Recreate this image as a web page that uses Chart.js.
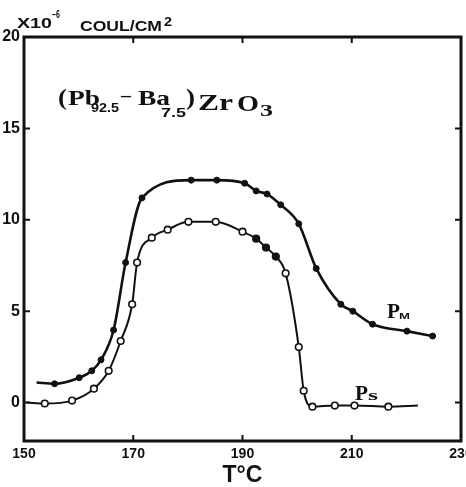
<!DOCTYPE html>
<html lang="en">
<head>
  <meta charset="UTF-8" />
  <title>(Pb92.5-Ba7.5)ZrO3 polarization</title>
  <script src="https://cdn.jsdelivr.net/npm/chart.js"></script>
  <style>
    body { margin: 0; padding: 0; background: #fff; }
    .chart-box { width: 466px; height: 487px; position: relative; }
  </style>
</head>
<body>
  <div class="chart-box">
    <canvas id="polChart"></canvas>
  </div>
  <script>
    // Values (temperature in deg C, polarization in 1e-6 coul/cm2)
    const pmTemp = [152.3, 155.6, 160.1, 162.4, 164.1, 166.4, 168.6, 171.6, 180.6, 185.3, 190.4, 192.5, 194.5, 197.0, 200.3, 203.5, 208.0, 210.2, 213.8, 220.1, 224.8];
    const pmPol  = [1.1, 1.03, 1.36, 1.74, 2.34, 3.97, 7.66, 11.2, 12.17, 12.17, 12.0, 11.58, 11.41, 10.82, 9.78, 7.34, 5.38, 5.0, 4.29, 3.91, 3.64];

    const psTemp = [150.5, 153.8, 158.8, 162.8, 165.5, 167.7, 169.8, 170.7, 173.4, 176.3, 180.1, 185.1, 190.0, 192.5, 194.3, 196.1, 197.9, 200.3, 201.2, 202.8, 206.9, 210.5, 216.7, 222.1];
    const psPol  = [0, -0.05, 0.11, 0.76, 1.74, 3.37, 5.38, 7.66, 9.02, 9.46, 9.89, 9.89, 9.35, 8.97, 8.48, 7.99, 7.07, 3.04, 0.65, -0.22, -0.16, -0.16, -0.22, -0.16];

    const xTicks = [150, 170, 190, 210, 230];
    const yTicks = [0, 5, 10, 15, 20];

    const toPoints = (xs, ys) => xs.map((x, i) => ({ x: x, y: ys[i] }));

    // frame, inward tick stubs and the hand lettering
    const framePlugin = {
      id: 'frame',
      afterDraw(chart) {
        const { ctx, chartArea: a, scales } = chart;
        ctx.save();
        ctx.strokeStyle = '#111';
        ctx.lineWidth = 3;
        ctx.strokeRect(a.left, a.top, a.right - a.left, a.bottom - a.top);

        ctx.lineWidth = 2;
        ctx.beginPath();
        [170, 190, 210].forEach(v => {
          const px = scales.x.getPixelForValue(v);
          ctx.moveTo(px, a.bottom); ctx.lineTo(px, a.bottom - 6);
          ctx.moveTo(px, a.top); ctx.lineTo(px, a.top + 6);
        });
        [0, 5, 10, 15].forEach(v => {
          const py = scales.y.getPixelForValue(v);
          ctx.moveTo(a.left, py); ctx.lineTo(a.left + 6, py);
          ctx.moveTo(a.right, py); ctx.lineTo(a.right - 6, py);
        });
        ctx.stroke();

        ctx.fillStyle = '#111';
        ctx.textBaseline = 'alphabetic';
        // draw text squeezed/stretched to span x0..x1
        const fit = (txt, x0, x1, y, font) => {
          ctx.save();
          ctx.font = font;
          const w = ctx.measureText(txt).width;
          ctx.translate(x0, y);
          ctx.scale((x1 - x0) / w, 1);
          ctx.fillText(txt, 0, 0);
          ctx.restore();
        };
        const sans = '"Liberation Sans"';
        const serif = '"Liberation Serif"';

        // unit label
        fit('X10', 17, 52, 28, 'bold 14px ' + sans);
        fit('\u22126', 52, 60, 18, 'bold 10px ' + sans);
        fit('COUL/CM', 80, 162, 31, 'bold 15px ' + sans);
        fit('2', 164, 172, 26, 'bold 12px ' + sans);

        // compound formula
        fit('(', 58, 67, 105, 'bold 24px ' + serif);
        fit('Pb', 68, 100, 105, 'bold 21px ' + serif);
        fit('92.5', 91, 119, 112, 'bold 12px ' + sans);
        fit('\u2013', 121, 131, 101, 'bold 18px ' + serif);
        fit('Ba', 138, 170, 105, 'bold 21px ' + serif);
        fit('7.5', 161, 186, 117, 'bold 12px ' + sans);
        fit(')', 186, 195, 105, 'bold 24px ' + serif);
        fit('Zr', 198, 233, 110, 'bold 23px ' + serif);
        fit('O', 237, 259, 111, 'bold 23px ' + serif);
        fit('3', 260, 273, 116, 'bold 17px ' + serif);

        // curve labels
        fit('P', 387, 400, 318, 'bold 22px ' + serif);
        fit('M', 399, 410, 319, 'bold 9px ' + sans);
        fit('P', 355, 368, 400, 'bold 22px ' + serif);
        fit('s', 368, 378, 400, 'bold 15px ' + serif);
        ctx.restore();
      }
    };

    const ctx = document.getElementById('polChart').getContext('2d');
    new Chart(ctx, {
      type: 'line',
      data: {
        datasets: [
          {
            label: 'Pm',
            data: toPoints(pmTemp, pmPol),
            borderColor: '#111',
            borderWidth: 2.6,
            cubicInterpolationMode: 'monotone',
            pointRadius: c => (c.dataIndex === 0 ? 0 : 3),
            pointBackgroundColor: '#111',
            pointBorderColor: '#111',
            pointBorderWidth: 1
          },
          {
            label: 'Ps',
            data: toPoints(psTemp, psPol),
            borderColor: '#111',
            borderWidth: 2,
            cubicInterpolationMode: 'monotone',
            pointRadius: c => (c.dataIndex === 0 || c.dataIndex === psTemp.length - 1 ? 0 : 3.3),
            pointBackgroundColor: c => {
              const t = psTemp[c.dataIndex];
              return t > 192 && t < 197 ? '#111' : '#fff';
            },
            pointBorderColor: '#111',
            pointBorderWidth: 1.6
          }
        ]
      },
      options: {
        responsive: true,
        maintainAspectRatio: false,
        animation: false,
        events: [],
        layout: { padding: { top: 37, right: 4, left: 0, bottom: 0 } },
        plugins: {
          legend: { display: false },
          tooltip: { enabled: false }
        },
        scales: {
          x: {
            type: 'linear',
            min: 150,
            max: 230,
            afterBuildTicks: s => { s.ticks = xTicks.map(v => ({ value: v })); },
            afterFit: s => { s.height = 46; s.paddingLeft = 0; s.paddingRight = 0; },
            grid: { display: false, drawTicks: false },
            border: { display: false },
            ticks: {
              color: '#111',
              padding: 5,
              maxRotation: 0,
              autoSkip: false,
              font: { family: 'Liberation Sans', weight: 'bold', size: 14 }
            },
            title: {
              display: true,
              text: 'T\u00B0C',
              color: '#111',
              padding: 0,
              font: { family: 'Liberation Sans', weight: 'bold', size: 23, lineHeight: 1 }
            }
          },
          y: {
            min: -2.1,
            max: 20,
            afterBuildTicks: s => { s.ticks = yTicks.map(v => ({ value: v })); },
            afterFit: s => { s.width = 24; s.paddingTop = 0; s.paddingBottom = 0; },
            grid: { display: false, drawTicks: false },
            border: { display: false },
            ticks: {
              color: '#111',
              padding: 4,
              font: { family: 'Liberation Sans', weight: 'bold', size: 16 }
            }
          }
        }
      },
      plugins: [framePlugin]
    });
  </script>
</body>
</html>
